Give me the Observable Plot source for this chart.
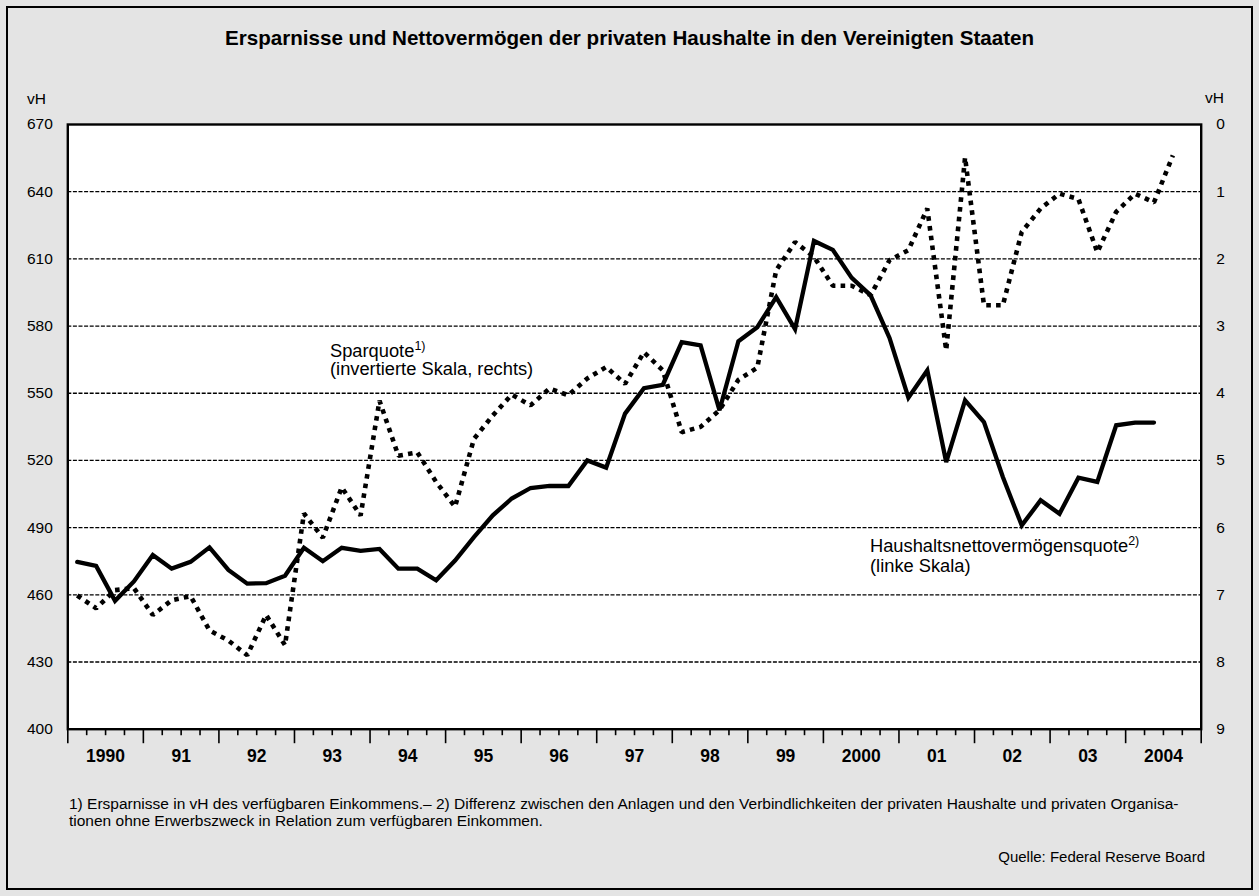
<!DOCTYPE html>
<html>
<head>
<meta charset="utf-8">
<script src="https://cdn.jsdelivr.net/npm/d3@7"></script>
<script src="https://cdn.jsdelivr.net/npm/@observablehq/plot@0.6"></script>
<style>
  body { margin: 0; background: #ffffff; }
  #wrap { position: relative; width: 1259px; height: 896px; background: #e4e4e4; overflow: hidden;
          font-family: "Liberation Sans", Arial, Helvetica, sans-serif; color: #000; }
  #border { position: absolute; left: 6px; top: 6px; width: 1243px; height: 880px; border: 2px solid #000; }
  .t { position: absolute; white-space: nowrap; line-height: 1; }
  #title { left: 0; width: 1259px; text-align: center; top: 27.8px; font-size: 20.6px; font-weight: bold; }
  #vhl { left: 27px; top: 90.9px; font-size: 15.5px; }
  #vhr { left: 1205px; top: 89.9px; font-size: 15.5px; }
  .ann { font-size: 18.3px; line-height: 18.5px; }
  #ann1 { left: 330px; top: 341.5px; }
  #ann2 { left: 870px; top: 536.0px; line-height: 19.8px; }
  sup { font-size: 12.5px; vertical-align: 7px; line-height: 0; }
  #foot { left: 69px; top: 794.9px; font-size: 15.5px; line-height: 17.5px; }
  #src { right: 54px; top: 849.3px; font-size: 15px; }
  #chart { position: absolute; left: 0; top: 80px; }
</style>
</head>
<body>
<div id="wrap">
  <div id="border"></div>
  <div class="t" id="title">Ersparnisse und Nettovermögen der privaten Haushalte in den Vereinigten Staaten</div>
  <div class="t" id="vhl">vH</div>
  <div class="t" id="vhr">vH</div>
  <div id="chart"></div>
  <div class="t ann" id="ann1">Sparquote<sup>1)</sup><br>(invertierte Skala, rechts)</div>
  <div class="t ann" id="ann2">Haushaltsnettovermögensquote<sup>2)</sup><br>(linke Skala)</div>
  <div class="t" id="foot">1) Ersparnisse in vH des verfügbaren Einkommens.– 2) Differenz zwischen den Anlagen und den Verbindlichkeiten der privaten Haushalte und privaten Organisa-<br>tionen ohne Erwerbszweck in Relation zum verfügbaren Einkommen.</div>
  <div class="t" id="src">Quelle: Federal Reserve Board</div>
</div>
<script>
// ---- Data (quarterly, starting 1990 Q1) ----
const startYear = 1990;

// Haushaltsnettovermögensquote, vH (left scale), 1990 Q1 – 2004 Q2
const netWorth = [
  474.7, 472.9, 457.3, 466.0,
  477.8, 471.7, 474.7, 481.2,
  471.1, 465.0, 465.2, 468.5,
  481.0, 475.0, 481.0, 479.6,
  480.5, 471.7, 471.7, 466.5,
  475.3, 485.8, 495.5, 503.0,
  507.7, 508.6, 508.6, 520.0,
  516.8, 540.9, 552.3, 553.8,
  572.8, 571.4, 542.4, 573.2,
  579.5, 592.9, 578.6, 618.0,
  614.0, 601.5, 593.7, 574.7,
  548.0, 560.2, 519.3, 546.8,
  537.1, 512.6, 491.0, 502.2,
  496.2, 512.3, 510.4, 535.7,
  536.9, 536.9
];

// Sparquote, vH (right scale, inverted), 1990 Q1 – 2004 Q3
const savingRate = [
  7.01, 7.20, 6.93, 6.90,
  7.30, 7.08, 7.02, 7.53,
  7.68, 7.90, 7.30, 7.75,
  5.79, 6.15, 5.40, 5.82,
  4.11, 4.93, 4.88, 5.32,
  5.69, 4.68, 4.33, 4.02,
  4.18, 3.93, 4.03, 3.78,
  3.61, 3.86, 3.39, 3.66,
  4.58, 4.50, 4.25, 3.80,
  3.62, 2.17, 1.75, 1.97,
  2.40, 2.40, 2.54, 2.02,
  1.87, 1.25, 3.36, 0.49,
  2.69, 2.69, 1.60, 1.25,
  1.03, 1.11, 1.90, 1.30,
  1.03, 1.16, 0.46
];

const years = d3.range(1990, 2005);
const yearLabels = ["1990", "91", "92", "93", "94", "95", "96", "97", "98", "99", "2000", "01", "02", "03", "2004"];
const leftTicks = [400, 430, 460, 490, 520, 550, 580, 610, 640, 670];
const rightTicks = [9, 8, 7, 6, 5, 4, 3, 2, 1, 0];

// ---- Build tables ----
const qx = i => startYear + (i + 0.5) / 4;
const netTable = netWorth.map((v, i) => ({t: qx(i), v}));
// right scale: 0 at top (=670), 9 at bottom (=400) -> left = 670 - 30*s
const toLeft = s => 670 - 30 * s;
const saveTable = savingRate.map((s, i) => ({t: qx(i), v: toLeft(s)}));
const labelMap = new Map(years.map((y, i) => [y + 0.5, yearLabels[i]]));
const rightMap = new Map(rightTicks.map(s => [toLeft(s), String(s)]));
const quarterTicks = d3.range(0, 60).filter(i => i % 4 !== 0).map(i => startYear + i / 4);
const yearTicks = d3.range(1990, 2006);

const font = '"Liberation Sans", Arial, Helvetica, sans-serif';

const chart = Plot.plot({
  width: 1259,
  height: 720,
  marginLeft: 67.3,
  marginRight: 58.3,
  marginTop: 44,
  marginBottom: 71.3,
  style: {background: "transparent", fontFamily: font, color: "#000", overflow: "visible"},
  x: {domain: [1990, 2005], axis: null},
  y: {domain: [400, 670], axis: null},
  marks: [
    Plot.frame({fill: "#ffffff"}),
    Plot.ruleY(leftTicks.filter(d => d > 400 && d < 670), {stroke: "#000", strokeWidth: 1.3, strokeDasharray: "4,1.6"}),
    Plot.line(saveTable, {x: "t", y: "v", stroke: "#000", strokeWidth: 4.6, strokeDasharray: "4.6,5.2", strokeLinecap: "butt", strokeLinejoin: "miter"}),
    Plot.line(netTable, {x: "t", y: "v", stroke: "#000", strokeWidth: 4.3, strokeLinejoin: "miter", strokeMiterlimit: 3}),
    Plot.frame({stroke: "#000", strokeWidth: 2.4}),
    Plot.axisY(leftTicks, {anchor: "left", tickSize: 0, tickPadding: 15, fontSize: 15.5, label: null, tickFormat: d => String(d)}),
    Plot.axisY(leftTicks, {anchor: "right", tickSize: 0, tickPadding: 15, fontSize: 15.5, label: null, tickFormat: d => rightMap.get(d)}),
    Plot.axisX(quarterTicks, {anchor: "bottom", tickSize: 6.5, strokeWidth: 1.6, tickFormat: () => "", label: null}),
    Plot.axisX(yearTicks, {anchor: "bottom", tickSize: 14.5, strokeWidth: 1.6, tickFormat: () => "", label: null}),
    Plot.axisX(years.map(y => y + 0.5), {anchor: "bottom", tickSize: 0, tickPadding: 20, fontSize: 17.5, fontWeight: "bold", label: null, tickFormat: d => labelMap.get(d)})
  ]
});
document.getElementById("chart").appendChild(chart);
</script>
</body>
</html>
